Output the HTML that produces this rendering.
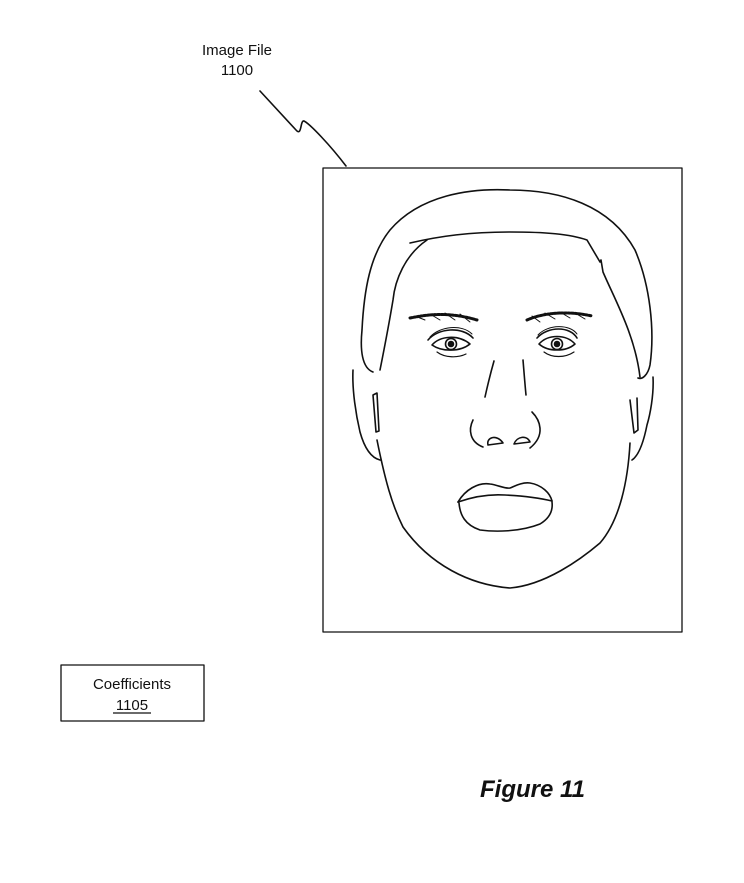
<!DOCTYPE html>
<html><head><meta charset="utf-8"><style>
html,body{margin:0;padding:0;background:#fff}
svg{display:block}
text{font-family:"Liberation Sans",sans-serif;fill:#111}
</style></head><body>
<svg width="744" height="883" viewBox="0 0 744 883" xmlns="http://www.w3.org/2000/svg">
<g fill="none" stroke="#111" stroke-width="1.6" stroke-linecap="round" stroke-linejoin="round">
<!-- leader -->
<path d="M260 91 L296 130 C302 137 300 120 304 121 C310 124 330 145 346 166"/>
<!-- image frame -->
<rect x="323" y="168" width="359" height="464" stroke-width="1.3"/>
<!-- hair outer -->
<path d="M373 372 C362 368 360 350 362 330 C364 290 370 255 390 230 C420 195 470 188 510 190 C560 190 610 205 635 250 C650 285 655 330 650 365 C648 375 642 380 638 378"/>
<!-- hair inner -->
<path d="M410 243 C440 236 470 232 510 232 C545 232 570 234 587 240 L600 262 L601 260 L603 272 C615 300 635 335 640 377"/>
<path d="M427 240 C405 255 395 280 393 300 C388 330 384 350 380 370"/>
<!-- ears -->
<path d="M353 370 C352 390 356 415 360 432 C365 450 372 458 380 460"/>
<path d="M653 377 C654 395 650 415 647 425 C643 445 638 456 632 460"/>
<path d="M373 395 L376 432 L379 431 L377 393 Z"/>
<path d="M630 400 L634 433 L638 430 L637 398"/>
<!-- face -->
<path d="M377 440 C385 480 392 505 403 527 C430 565 470 585 510 588 C545 585 580 560 600 543 C620 520 628 480 630 443"/>
<!-- nose -->
<path d="M494 361 C490 375 487 388 485 397"/>
<path d="M523 360 C524 372 525 385 526 395"/>
<path d="M473 420 C468 430 470 442 483 447"/>
<path d="M488 445 C486 437 497 434 503 443 Z"/>
<path d="M532 412 C540 420 546 435 530 448"/>
<path d="M514 444 C517 436 527 435 530 442 Z"/>
<!-- mouth -->
<path d="M458 502 C465 490 478 482 490 484 C498 485 505 489 510 488 C515 486 522 482 530 483 C542 485 550 493 552 501"/>
<path d="M458 502 C475 496 490 494 505 495 C525 496 540 498 552 501"/>
<path d="M459 503 C460 515 465 525 480 530 C495 532 520 532 540 524 C550 518 553 510 552 502"/>
<!-- eyes -->
<path d="M432 345 C440 336 458 334 470 344 C460 352 442 352 432 345 Z"/>
<path d="M428 340 C438 328 462 326 473 338"/>
<path d="M430 337 C440 326 462 324 472 334" stroke-width="1"/>
<path d="M437 352 C445 358 458 358 466 354" stroke-width="1.2"/>
<circle cx="451" cy="344" r="5.5"/><circle cx="451" cy="344" r="2.5" fill="#111"/>
<path d="M539 344 C548 334 566 334 575 344 C566 352 548 352 539 344 Z"/>
<path d="M537 338 C548 326 570 326 577 338"/>
<path d="M538 335 C548 324 570 324 577 334" stroke-width="1"/>
<path d="M544 352 C552 358 565 358 574 352" stroke-width="1.2"/>
<circle cx="557" cy="344" r="5.5"/><circle cx="557" cy="344" r="2.5" fill="#111"/>
<!-- eyebrows -->
<path d="M410 318 C430 314 450 312 477 320" stroke-width="3" stroke-dasharray="2 1.5"/>
<path d="M415 316 L425 320 M430 314 L440 320 M445 313 L455 320 M460 314 L470 322" stroke-width="1"/>
<path d="M527 320 C545 312 570 311 592 316" stroke-width="3" stroke-dasharray="2 1.5"/>
<path d="M532 316 L540 322 M545 313 L555 319 M560 312 L570 318 M575 313 L585 319" stroke-width="1"/>
<!-- coefficients box -->
<rect x="61" y="665" width="143" height="56" stroke-width="1.3"/>
</g>
<text x="237" y="55" font-size="15" text-anchor="middle">Image File</text>
<text x="237" y="75" font-size="15" text-anchor="middle">1100</text>
<text x="132" y="689" font-size="15" text-anchor="middle">Coefficients</text>
<text x="132" y="710" font-size="15" text-anchor="middle">1105</text>
<line x1="113" y1="713" x2="151" y2="713" stroke="#111" stroke-width="1.2"/>
<text x="480" y="797" font-size="24" font-weight="bold" font-style="italic">Figure 11</text>
</svg>
</body></html>
